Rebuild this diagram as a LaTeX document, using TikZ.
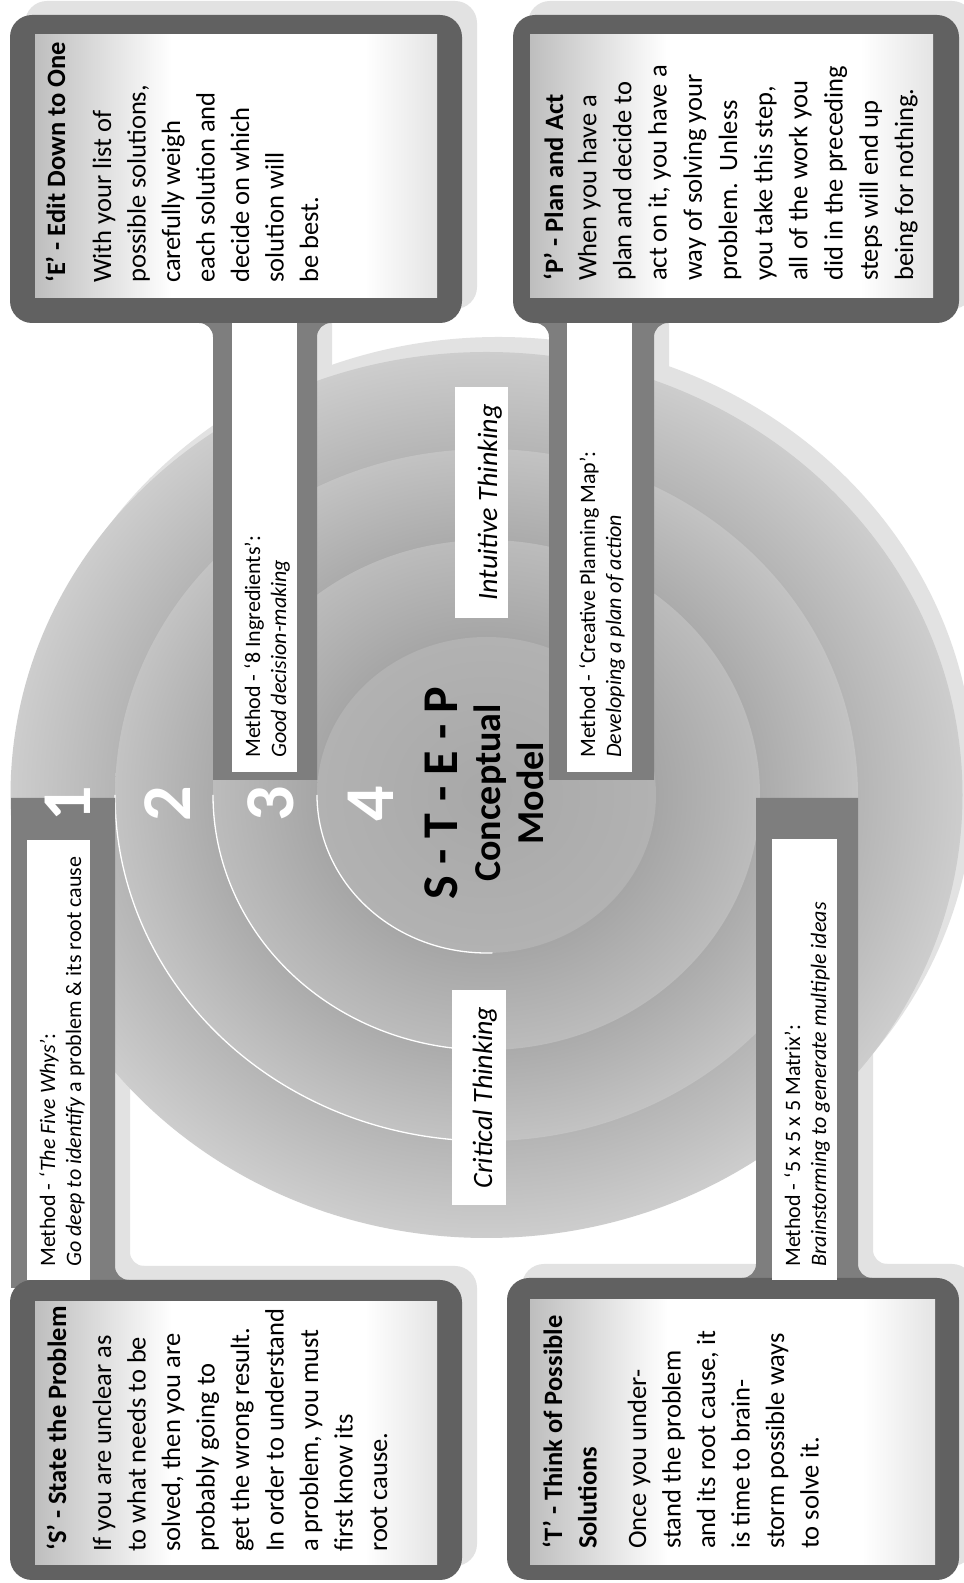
\documentclass[tikz,border=0pt]{standalone}
\usepackage{fontspec}
\setmainfont{Carlito}
\definecolor{framec}{HTML}{616161}
\definecolor{bandc}{HTML}{7E7E7E}
\definecolor{shadowc}{HTML}{E2E2E2}
\definecolor{panelg}{HTML}{BEBEBE}
\definecolor{panelr}{HTML}{E4E4E4}
\definecolor{ra}{HTML}{B5B5B5}\definecolor{rA}{HTML}{CDCDCD}
\definecolor{rb}{HTML}{ABABAB}\definecolor{rB}{HTML}{C3C3C3}
\definecolor{rc}{HTML}{A6A6A6}\definecolor{rC}{HTML}{BCBCBC}
\definecolor{rd}{HTML}{A8A8A8}\definecolor{rD}{HTML}{B2B2B2}
\pgfdeclareradialshading{ringone}{\pgfpoint{0bp}{0bp}}{color(0bp)=(ra); color(19.5bp)=(ra); color(25bp)=(rA); color(50bp)=(rA)}
\pgfdeclareradialshading{ringtwo}{\pgfpoint{0bp}{0bp}}{color(0bp)=(rb); color(18.4bp)=(rb); color(25bp)=(rB); color(50bp)=(rB)}
\pgfdeclareradialshading{ringthree}{\pgfpoint{0bp}{0bp}}{color(0bp)=(rc); color(15.5bp)=(rc); color(25bp)=(rC); color(50bp)=(rC)}
\pgfdeclareradialshading{ringfour}{\pgfpoint{0bp}{0bp}}{color(0bp)=(rd); color(25bp)=(rD); color(50bp)=(rD)}
\pgfdeclarehorizontalshading{panelshade}{100bp}{color(0bp)=(panelg); color(25bp)=(panelg); color(42bp)=(white); color(66bp)=(white); color(75bp)=(panelr); color(100bp)=(panelr)}
% landscape paths (u to the right, v upwards)
\newcommand\pathSbox{(3,502) rectangle (303,954)}
\newcommand\pathTbox{(3,5) rectangle (305,457)}
\newcommand\pathEbox{(1260,502) rectangle (1568,954)}
\newcommand\pathPbox{(1260,5) rectangle (1568,451)}
\newcommand\pathSband{(295,953) -- (785,953) -- (785,849) -- (317,849) arc[start angle=90,end angle=180,radius=14pt] -- (295,835) -- cycle}
\newcommand\pathTband{(297,222) -- (305,222) arc[start angle=180,end angle=270,radius=14pt] -- (785,208) -- (785,106) -- (319,106) arc[start angle=90,end angle=180,radius=14pt] -- (297,92) -- cycle}
\newcommand\pathEband{(803,751) -- (1246,751) arc[start angle=270,end angle=360,radius=14pt] -- (1268,765) -- (1268,633) -- (1260,633) arc[start angle=0,end angle=90,radius=14pt] -- (803,647) -- cycle}
\newcommand\pathPband{(803,415) -- (1246,415) arc[start angle=270,end angle=360,radius=14pt] -- (1268,429) -- (1268,296) -- (1260,296) arc[start angle=0,end angle=90,radius=14pt] -- (803,310) -- cycle}
\tikzset{
  boxframe/.style={fill=framec, rounded corners=22pt},
  boxshadow/.style={fill=shadowc, rounded corners=22pt},
  panel/.style={shading=panelshade},
  bandfill/.style={fill=bandc},
  labelbox/.style={fill=white},
  sepline/.style={draw=white, line width=1.3pt},
  bodytext/.style={anchor=north west, inner sep=0pt, align=left, font=\fontsize{26.5}{34.5}\selectfont},
  bodytextP/.style={anchor=north west, inner sep=0pt, align=left, font=\fontsize{26.5}{35.2}\selectfont},
  titletext/.style={anchor=north west, inner sep=0pt, align=left, font=\bfseries\fontsize{26.5}{34.5}\selectfont},
  methtext/.style={anchor=north west, inner sep=0pt, align=left, font=\fontsize{22}{26}\selectfont},
  thinktext/.style={anchor=base, inner sep=0pt, font=\itshape\fontsize{28}{32}\selectfont},
  digit/.style={anchor=base, inner sep=0pt, text=white, font=\bfseries\fontsize{70}{70}\selectfont},
  bigtitle/.style={anchor=base, inner sep=0pt, font=\bfseries\fontsize{50}{50}\selectfont},
  subtitle/.style={anchor=base, inner sep=0pt, font=\bfseries\fontsize{38}{38}\selectfont},
  landscape/.style={shift={(964,0)},rotate=90,transform shape}
}
\begin{document}
\begin{tikzpicture}[x=1pt,y=1pt]
\useasboundingbox (0,0) rectangle (964,1583);
\fill[white] (0,0) rectangle (964,1583);
\begin{scope}[landscape]
  \coordinate (ctr) at (788,477.5);
  % shadows
  \begin{scope}[shift={(14,-15)}]
    \fill[boxshadow] \pathSbox;
    \fill[boxshadow] \pathTbox;
    \fill[boxshadow] \pathEbox;
    \fill[boxshadow] \pathPbox;
    \fill[shadowc] \pathSband;
    \fill[shadowc] \pathTband;
    \fill[shadowc] \pathEband;
    \fill[shadowc] \pathPband;
  \end{scope}
  \fill[shadowc] ([shift={(15,-12)}]ctr) ellipse[x radius=443pt, y radius=476pt];
  % rings
  \shade[shading=ringone] (ctr) ellipse[x radius=443pt, y radius=476pt];
  \shade[shading=ringtwo] (ctr) ellipse[x radius=346pt, y radius=371.5pt];
  \shade[shading=ringthree] (ctr) ellipse[x radius=255pt, y radius=273.5pt];
  \shade[shading=ringfour] (ctr) ellipse[x radius=158pt, y radius=169.5pt];
  \draw[sepline] (788,849) arc[start angle=90, end angle=182, x radius=346pt, y radius=371.5pt];
  \draw[sepline] (788,751) arc[start angle=90, end angle=182, x radius=255pt, y radius=273.5pt];
  \draw[sepline] (788,647) arc[start angle=90, end angle=182, x radius=158pt, y radius=169.5pt];
  % bands
  \fill[bandfill] \pathSband;
  \fill[bandfill] \pathTband;
  \fill[bandfill] \pathEband;
  \fill[bandfill] \pathPband;
  % boxes
  \fill[boxframe] \pathSbox;
  \fill[boxframe] \pathTbox;
  \fill[boxframe] \pathEbox;
  \fill[boxframe] \pathPbox;
\end{scope}
% inner panels (drawn in page coordinates so the gradient runs left to right)
\shade[panel] (35,18) rectangle (437,281);
\shade[panel] (530,18) rectangle (935,283);
\shade[panel] (35,1285) rectangle (437,1548);
\shade[panel] (530,1285) rectangle (933,1548);
\begin{scope}[landscape]
  % method labels
  \fill[labelbox] (303,874) rectangle (743,937);
  \fill[labelbox] (303,127) rectangle (744,192);
  \fill[labelbox] (811,667) rectangle (1260,732);
  \fill[labelbox] (811,332) rectangle (1260,397);
  \fill[labelbox] (378,458) rectangle (593,512);
  \fill[labelbox] (965,456) rectangle (1196,509);
  \node[methtext] (ms) at (316,927.2) {\strut Method - \textit{‘The Five Whys’}:\\\textit{Go deep to identify} a problem \& its root cause};
  \node[methtext] (mt) at (316,182.2) {\strut Method - ‘5 x 5 x 5 Matrix’:\\\textit{Brainstorming to generate multiple ideas}};
  \node[methtext] (me) at (825,722.2) {\strut Method - ‘8 Ingredients’:\\\textit{Good decision-making}};
  \node[methtext] (mp) at (825,387.2) {\strut Method - ‘Creative Planning Map’:\\\textit{Developing a plan of action}};
  \node[thinktext] (crit) at (485.5,472) {Critical Thinking};
  \node[thinktext] (intu) at (1080.5,467) {Intuitive Thinking};
  % digits
  \node[digit] (d1) at (779,874) {1};
  \node[digit] (d2) at (779,774) {2};
  \node[digit] (d3) at (779,671) {3};
  \node[digit] (d4) at (779,571) {4};
  % centre title
  \node[bigtitle] (step) at (790,507) {S - T - E - P};
  \node[subtitle] (concept) at (790,464) {Conceptual};
  \node[subtitle] (model) at (790,421) {Model};
  % box texts
  \node[titletext] (stitle) at (32,922.2) {\strut ‘S’ - State the Problem};
  \node[bodytext] (sbody) at (31,877.2) {\strut If you are unclear as\\to what needs to be\\solved, then you are\\probably going to\\get the wrong result.\\In order to understand\\a problem, you must\\first know its\\root cause.};
  \node[titletext] (ttitle) at (34,426.2) {\strut ‘T’ - Think of Possible\\Solutions};
  \node[bodytext] (tbody) at (34,342.2) {\strut Once you under-\\stand the problem\\and its root cause, it\\is time to brain-\\storm possible ways\\to solve it.};
  \node[titletext] (etitle) at (1300,923.2) {\strut ‘E’ - Edit Down to One};
  \node[bodytext] (ebody) at (1300,877.2) {\strut With your list of\\possible solutions,\\carefully weigh\\each solution and\\decide on which\\solution will\\be best.};
  \node[titletext] (ptitle) at (1302,425.2) {\strut ‘P’ - Plan and Act};
  \node[bodytextP] (pbody) at (1302,392.6) {\strut When you have a\\plan and decide to\\act on it, you have a\\way of solving your\\problem.\ \ Unless\\you take this step,\\all of the work you\\did in the preceding\\steps will end up\\being for nothing.};
\end{scope}
\end{tikzpicture}
\end{document}
